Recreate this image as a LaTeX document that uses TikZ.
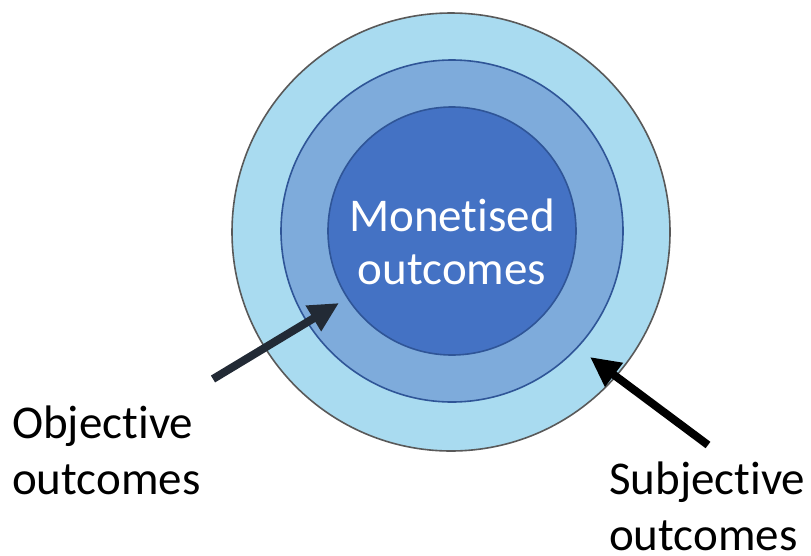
\documentclass[tikz,border=0pt]{standalone}
\usepackage{fontspec}
\setmainfont{Carlito}[Ligatures=NoCommon]
\usetikzlibrary{arrows.meta}
\definecolor{ringout}{HTML}{A9DBF0}
\definecolor{ringmid}{HTML}{7EABDB}
\definecolor{ringin}{HTML}{4472C4}
\definecolor{edgeblue}{HTML}{2F5597}
\definecolor{edgegray}{HTML}{595959}
\definecolor{navy}{HTML}{222A35}
\tikzset{
  ring/.style={circle, inner sep=0pt, line width=1.6pt},
  label/.style={font=\fontsize{47}{56}\selectfont, align=left, anchor=base west, inner sep=0pt},
  pointer/.style={line width=8pt, -{Triangle[length=30pt,width=28pt]}}
}
\begin{document}
\begin{tikzpicture}[x=1pt,y=-1pt]
\useasboundingbox (0,0) rectangle (811,555);
\node[ring, draw=edgegray, fill=ringout, minimum size=438pt] (outer) at (451,232) {};
\node[ring, draw=edgeblue, fill=ringmid, minimum size=342pt] (middle) at (452,231) {};
\node[ring, draw=edgeblue, fill=ringin, minimum size=248pt] (inner) at (452,231) {};
\node[font=\fontsize{47}{53}\selectfont, text=white, align=center, inner sep=0pt, anchor=base] (mon) at (452,284) {Monetised\\outcomes};
\node[label] (obj) at (12,494) {Objective\\outcomes};
\node[label] (subj) at (609,550) {Subjective\\outcomes};
\coordinate (objtail) at (213,379);
\coordinate (objtip) at (339,303);
\coordinate (subjtail) at (708,445);
\coordinate (subjtip) at (590,357);
\draw[pointer, draw=navy, fill=navy] (objtail) -- (objtip);
\draw[pointer, draw=black, fill=black] (subjtail) -- (subjtip);
\end{tikzpicture}
\end{document}
